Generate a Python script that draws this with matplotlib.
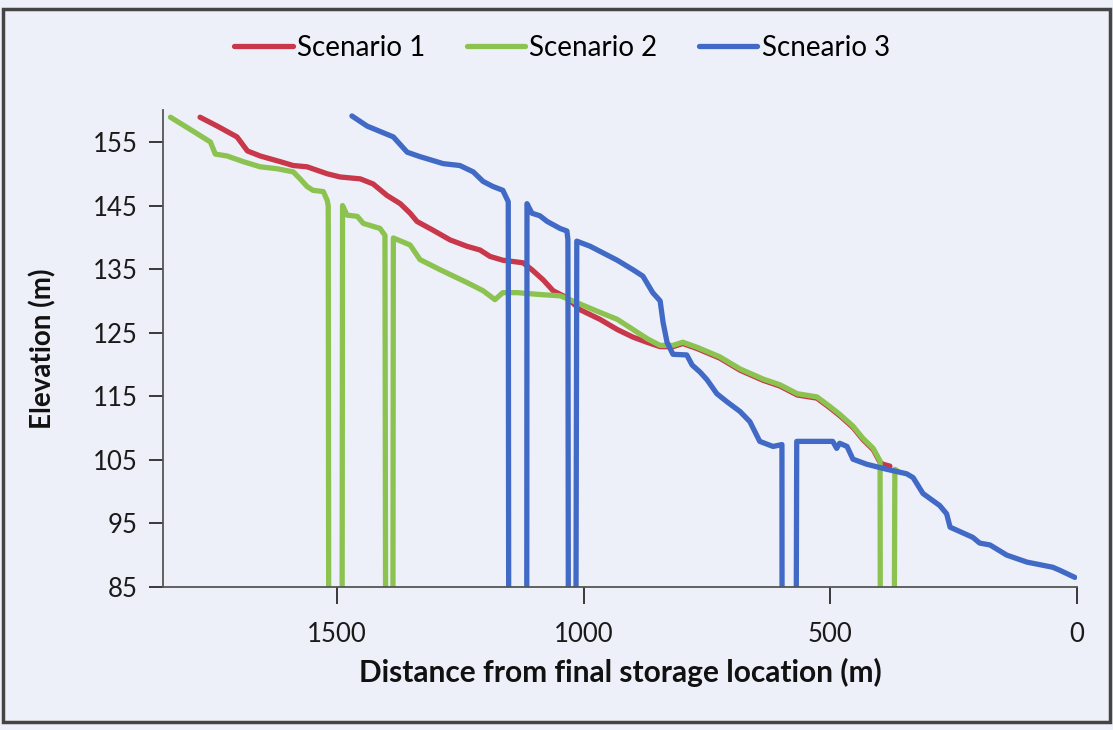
import matplotlib.pyplot as plt
from matplotlib.patches import Rectangle

plt.rcParams['font.family'] = ['Lato', 'DejaVu Sans']

# distance from final storage location (m) and elevation (m); 0 = missing value
red_dist = [1778, 1743, 1703, 1682, 1656, 1615, 1589, 1561, 1520, 1494, 1453, 1427, 1399, 1372,
            1352, 1338, 1305, 1271, 1237, 1210, 1190, 1164, 1123, 1105, 1082, 1062, 1034, 1007,
            967, 932, 900, 872, 845, 819, 799, 770, 724, 683, 636, 602, 567, 527, 501, 480, 454,
            434, 413, 399, 393, 379]
red_elev = [158.9, 157.5, 155.8, 153.6, 152.8, 151.9, 151.3, 151.1, 150.0, 149.5, 149.2, 148.4,
            146.6, 145.3, 143.8, 142.5, 141.1, 139.6, 138.6, 138.0, 137.0, 136.4, 136.0, 134.9,
            133.3, 131.6, 130.5, 128.6, 127.1, 125.5, 124.3, 123.5, 122.8, 122.8, 123.3, 122.5,
            121.0, 119.1, 117.5, 116.6, 115.2, 114.7, 113.2, 111.9, 110.1, 108.2, 106.6, 104.6,
            104.3, 104.0]

green_dist = [1838, 1792, 1757, 1747, 1723, 1690, 1656, 1622, 1589, 1575, 1561, 1549, 1528, 1520,
              1518, 1516, 1491, 1489, 1480, 1459, 1447, 1413, 1403, 1400, 1388, 1386, 1352, 1332,
              1291, 1237, 1204, 1180, 1164, 1135, 1088, 1048, 1028, 1001, 967, 932, 900, 870, 845,
              819, 799, 770, 724, 683, 636, 602, 567, 527, 501, 480, 454, 434, 413, 399, 397, 374,
              369, 363]
green_elev = [158.9, 156.7, 155.0, 153.1, 152.8, 151.9, 151.1, 150.8, 150.3, 149.2, 148.0, 147.4,
              147.2, 145.8, 144.9, 0, 0, 145.0, 143.5, 143.3, 142.2, 141.4, 140.3, 0, 0, 139.9,
              138.8, 136.5, 134.9, 132.9, 131.6, 130.2, 131.3, 131.3, 131.0, 130.8, 130.2, 129.3,
              128.2, 127.1, 125.5, 124.0, 123.0, 123.0, 123.5, 122.7, 121.2, 119.3, 117.7, 116.8,
              115.4, 114.9, 113.4, 112.1, 110.3, 108.4, 106.8, 104.8, 0, 0, 103.5, 103.2]

blue_dist = [1470, 1439, 1386, 1358, 1332, 1285, 1251, 1224, 1204, 1184, 1164, 1153, 1151, 1116,
             1115, 1105, 1089, 1074, 1048, 1034, 1032, 1030, 1018, 1014, 987, 932, 900, 880, 860,
             845, 839, 831, 819, 791, 780, 764, 750, 730, 709, 683, 663, 643, 616, 598, 597, 572,
             568, 495, 487, 481, 466, 454, 426, 385, 345, 332, 312, 278, 264, 257, 211, 197, 176,
             142, 101, 49, 34, 4]
blue_elev = [159.1, 157.5, 155.8, 153.4, 152.7, 151.6, 151.3, 150.3, 148.8, 148.0, 147.4, 145.6,
             0, 0, 145.3, 143.8, 143.4, 142.5, 141.4, 141.0, 139.6, 0, 0, 139.4, 138.6, 136.4,
             134.9, 133.9, 131.3, 130.0, 126.6, 123.5, 121.6, 121.5, 119.9, 118.8, 117.6, 115.4,
             114.1, 112.6, 111.0, 107.9, 107.1, 107.4, 0, 0, 107.9, 107.9, 106.8, 107.6, 107.1,
             105.1, 104.3, 103.5, 102.8, 102.2, 99.7, 97.8, 96.5, 94.4, 92.8, 91.9, 91.6, 90.0,
             88.9, 88.1, 87.6, 86.5]

labels = ['Scenario 1', 'Scenario 2', 'Scneario 3']
x_ticks = [1500, 1000, 500, 0]
y_ticks = [85, 95, 105, 115, 125, 135, 145, 155]

bg = '#edf0f8'
fig = plt.figure(figsize=(11.13, 7.30), dpi=100, facecolor=bg)
ax = fig.add_axes([0.1465, 0.196, 0.821, 0.653], facecolor=bg)

kw = dict(linewidth=3.8, solid_joinstyle='round', solid_capstyle='round')
ax.plot(red_dist, red_elev, color='#c8374a', label=labels[0], **kw)
ax.plot(green_dist, green_elev, color='#8cc350', label=labels[1], **kw)
ax.plot(blue_dist, blue_elev, color='#4169c6', label=labels[2], **kw)

ax.set_xlim(1853, 0)
ax.set_ylim(85, 160)
ax.set_xticks(x_ticks)
ax.set_yticks(y_ticks)
ax.tick_params(axis='both', labelsize=18.5, colors='#1a1a1a', direction='out', width=1.2)
ax.tick_params(axis='x', length=12, pad=13)
ax.tick_params(axis='y', length=10, pad=8)
for s in ['top', 'right']:
    ax.spines[s].set_visible(False)
for s in ['left', 'bottom']:
    ax.spines[s].set_color('#555555')
    ax.spines[s].set_linewidth(1.3)

ax.set_xlabel('Distance from final storage location (m)', fontsize=21.5, fontweight='bold',
              labelpad=8, color='#111111')
ax.set_ylabel('Elevation (m)', fontsize=20, fontweight='bold', labelpad=26, color='#111111')

fig.legend(loc='center', bbox_to_anchor=(0.505, 0.934), ncol=3, frameon=False, fontsize=20,
           handlelength=2.1, handletextpad=0.15, columnspacing=1.5)

fig.patches.append(Rectangle((0.003, 0.011), 0.994, 0.977, transform=fig.transFigure,
                             fill=False, edgecolor='#444444', linewidth=2.5))

fig.savefig('out.png', dpi=100, facecolor=bg)
